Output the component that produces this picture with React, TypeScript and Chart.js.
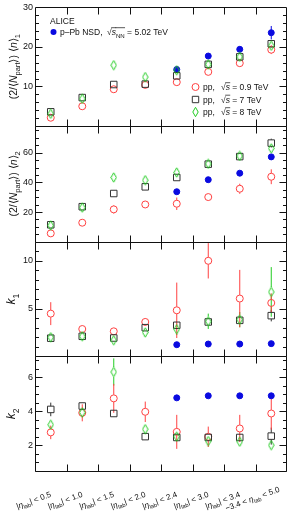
import React, { useEffect, useRef } from "react";
import { Chart, registerables } from "chart.js";

Chart.register(...registerables);

// ---------------- data ----------------
const categories = [
  "|η_lab| < 0.5",
  "|η_lab| < 1.0",
  "|η_lab| < 1.5",
  "|η_lab| < 2.0",
  "|η_lab| < 2.4",
  "|η_lab| < 3.0",
  "|η_lab| < 3.4",
  "−3.4 < η_lab < 5.0",
];

// panel 1 : (2/<Npart>) <n>_1
const n1PPb = [null, null, null, null, 14.3, 17.7, 19.4, 23.6];
const n1PPbErr = [0, 0, 0, 0, 0.5, 0.6, 0.7, 1.7];
const n1pp09 = [2.1, 5.0, 9.3, 10.4, 11.1, 13.7, 15.9, 19.3];
const n1pp09Err = [0.3, 0.4, 0.9, 0.5, 0.5, 0.5, 0.6, 1.1];
const n1pp7 = [3.6, 7.2, 10.5, 10.6, 12.7, 15.6, 17.5, 20.8];
const n1pp7Err = [0.3, 0.3, 0.4, 0.4, 0.5, 0.5, 0.6, 0.9];
const n1pp8 = [3.1, 6.9, 15.4, 12.4, 14.1, 15.6, 17.5, 20.3];
const n1pp8Err = [0.6, 0.6, 0.5, 0.5, 0.6, 0.6, 0.6, 0.7];

// panel 2 : (2/<Npart>) <n>_2
const n2PPb = [null, null, null, null, 33.7, 41.8, 46.2, 57.2];
const n2PPbErr = [0, 0, 0, 0, 0.8, 1.0, 1.0, 1.2];
const n2pp09 = [5.6, 12.8, 21.8, 25.1, 25.6, 30.1, 35.7, 43.8];
const n2pp09Err = [0.8, 1.0, 2.8, 1.5, 4.2, 1.5, 3.4, 5.0];
const n2pp7 = [11.4, 23.6, 32.5, 37.0, 43.3, 52.3, 57.4, 66.5];
const n2pp7Err = [0.8, 1.0, 1.0, 1.0, 1.2, 1.2, 1.5, 3.0];
const n2pp8 = [11.0, 23.0, 43.3, 41.5, 46.7, 52.5, 57.8, 62.9];
const n2pp8Err = [1.5, 1.5, 1.5, 1.5, 2.0, 1.5, 1.5, 1.5];

// panel 3 : k_1
const k1PPb = [null, null, null, null, 1.22, 1.29, 1.29, 1.33];
const k1PPbErr = [0, 0, 0, 0, 0.1, 0.1, 0.1, 0.1];
const k1pp09 = [4.47, 2.86, 2.62, 3.6, 4.82, 10.0, 6.05, 5.59];
const k1pp09Err = [1.2, 0.3, 0.3, 0.4, 2.9, 1.85, 3.0, 1.0];
const k1pp7 = [1.9, 2.1, 1.92, 3.0, 3.25, 3.6, 3.77, 4.26];
const k1pp7Err = [0.2, 0.2, 0.2, 0.3, 0.3, 0.3, 0.4, 0.6];
const k1pp8 = [2.0, 2.1, 1.68, 2.5, 2.83, 3.67, 3.84, 6.74];
const k1pp8Err = [0.3, 0.2, 0.3, 0.3, 0.6, 0.8, 0.8, 2.6];

// panel 4 : k_2
const k2PPb = [null, null, null, null, 4.78, 4.9, 4.9, 4.9];
const k2PPbErr = [0, 0, 0, 0, 0.1, 0.1, 0.1, 0.1];
const k2pp09 = [2.75, 3.9, 4.75, 3.96, 2.78, 2.49, 2.98, 3.86];
const k2pp09Err = [0.4, 0.5, 0.85, 0.6, 1.0, 0.6, 0.8, 0.95];
const k2pp7 = [4.1, 4.3, 3.86, 2.5, 2.45, 2.45, 2.45, 2.53];
const k2pp7Err = [0.4, 0.2, 0.1, 0.1, 0.1, 0.1, 0.1, 0.5];
const k2pp8 = [3.2, 3.92, 6.3, 2.94, 2.5, 2.24, 2.2, 2.0];
const k2pp8Err = [0.2, 0.3, 0.8, 0.1, 0.2, 0.2, 0.2, 0.1];

// tick labels
const n1TickLabels = [10, 20, 30];
const n2TickLabels = [20, 40, 60];
const k1TickLabels = [5, 10];
const k2TickLabels = [2, 4, 6];

// legend texts
const ppbLegend = "p–Pb NSD,";
const ppbEnergy = "5.02";
const ppEnergies = ["0.9", "7", "8"];

// ---------------- styles ----------------
const FONT = "'Liberation Sans', Arial, Helvetica, sans-serif";
const RED = "#ff4040";
const GREEN = "#22cc22";
const BLUE = "#0a0ae0";
const BLACK = "#333333";
const TXT = "#111111";

type Seg = { t: string; it?: boolean; sub?: boolean; over?: boolean };

function segFont(s: Seg, size: number) {
  return `${s.it ? "italic " : ""}${s.sub ? (size * 0.72).toFixed(2) : size}px ${FONT}`;
}
function measure(ctx: CanvasRenderingContext2D, segs: Seg[], size: number) {
  let w = 0;
  for (const s of segs) {
    ctx.font = segFont(s, size);
    w += ctx.measureText(s.t).width;
  }
  return w;
}
function drawSegs(ctx: CanvasRenderingContext2D, segs: Seg[], x: number, y: number, size: number) {
  let cx = x;
  for (const s of segs) {
    ctx.font = segFont(s, size);
    const w = ctx.measureText(s.t).width;
    ctx.fillText(s.t, cx, y + (s.sub ? size * 0.3 : 0));
    if (s.over) {
      ctx.save();
      ctx.lineWidth = 0.7;
      ctx.strokeStyle = ctx.fillStyle as string;
      ctx.beginPath();
      const oy = y - size * 0.86;
      ctx.moveTo(cx - 0.5, oy);
      ctx.lineTo(cx + w + 0.3, oy);
      ctx.stroke();
      ctx.restore();
    }
    cx += w;
  }
  return cx;
}
function labelSegs(l: string): Seg[] {
  const parts = l.split("η_lab");
  const out: Seg[] = [];
  parts.forEach((p, i) => {
    if (i > 0) {
      out.push({ t: "η", it: true });
      out.push({ t: "lab", sub: true });
    }
    if (p) out.push({ t: p });
  });
  return out;
}
const titleN = (k: string): Seg[] => [
  { t: "(2/⟨" },
  { t: "N", it: true },
  { t: "part", sub: true },
  { t: "⟩) ⟨" },
  { t: "n", it: true },
  { t: "⟩" },
  { t: k, sub: true },
];
const titleK = (k: string): Seg[] => [{ t: "k", it: true }, { t: k, sub: true }];

const panels = [
  { id: "y1", min: 0, max: 30, minor: 2, weight: 119, ticks: n1TickLabels, title: titleN("1"), tsize: 10.5, tx: 17 },
  { id: "y2", min: 0, max: 78, minor: 5, weight: 116, ticks: n2TickLabels, title: titleN("2"), tsize: 10.5, tx: 17 },
  { id: "y3", min: 0, max: 12, minor: 1, weight: 115, ticks: k1TickLabels, title: titleK("1"), tsize: 12, tx: 15 },
  { id: "y4", min: 0.45, max: 7.22, minor: 0.5, weight: 115.5, ticks: k2TickLabels, title: titleK("2"), tsize: 12, tx: 15 },
];

function makeDiamond(color: string) {
  const c = document.createElement("canvas");
  c.width = 7;
  c.height = 11;
  const g = c.getContext("2d")!;
  g.strokeStyle = color;
  g.lineWidth = 1;
  g.beginPath();
  g.moveTo(3.5, 0.8);
  g.lineTo(6.2, 5.5);
  g.lineTo(3.5, 10.2);
  g.lineTo(0.8, 5.5);
  g.closePath();
  g.stroke();
  return c;
}

function drawMarker(ctx: CanvasRenderingContext2D, kind: string, x: number, y: number) {
  ctx.save();
  ctx.lineWidth = 1;
  ctx.beginPath();
  if (kind === "red") {
    ctx.strokeStyle = RED;
    ctx.arc(x, y, 3.5, 0, Math.PI * 2);
    ctx.stroke();
  } else if (kind === "black") {
    ctx.strokeStyle = BLACK;
    ctx.rect(x - 3.2, y - 3.2, 6.4, 6.4);
    ctx.stroke();
  } else if (kind === "green") {
    ctx.strokeStyle = GREEN;
    ctx.moveTo(x, y - 4.7);
    ctx.lineTo(x + 2.7, y);
    ctx.lineTo(x, y + 4.7);
    ctx.lineTo(x - 2.7, y);
    ctx.closePath();
    ctx.stroke();
  } else {
    ctx.fillStyle = BLUE;
    ctx.arc(x, y, 3, 0, Math.PI * 2);
    ctx.fill();
  }
  ctx.restore();
}

const errorBarPlugin = {
  id: "errbars",
  beforeDatasetsDraw(chart: any) {
    const ctx: CanvasRenderingContext2D = chart.ctx;
    const xs = chart.scales.x;
    const area = chart.chartArea;
    chart.data.datasets.forEach((d: any) => {
      const ys = chart.scales[d.yAxisID];
      ctx.save();
      ctx.beginPath();
      ctx.rect(area.left, ys.top, area.right - area.left, ys.bottom - ys.top);
      ctx.clip();
      ctx.strokeStyle = d.barColor;
      ctx.lineWidth = 1;
      d.data.forEach((v: number | null, i: number) => {
        if (v == null) return;
        const e = d.errors[i];
        if (!e) return;
        const x = xs.getPixelForValue(i);
        const y = ys.getPixelForValue(v);
        const yt = ys.getPixelForValue(v + e);
        const yb = ys.getPixelForValue(v - e);
        const gap = d.gap;
        ctx.beginPath();
        if (y - gap > yt) {
          ctx.moveTo(x, yt);
          ctx.lineTo(x, y - gap);
        }
        if (y + gap < yb) {
          ctx.moveTo(x, y + gap);
          ctx.lineTo(x, yb);
        }
        ctx.stroke();
      });
      ctx.restore();
    });
  },
};

const framePlugin = {
  id: "frame",
  afterDraw(chart: any) {
    const ctx: CanvasRenderingContext2D = chart.ctx;
    const area = chart.chartArea;
    const xs = chart.scales.x;
    const L = Math.round(area.left) + 0.5;
    const R = Math.round(area.right) - 0.5;
    ctx.save();
    ctx.strokeStyle = TXT;
    ctx.lineWidth = 1;
    panels.forEach((p) => {
      const ys = chart.scales[p.id];
      const T = Math.round(ys.top) + 0.5;
      const B = Math.round(ys.bottom) + 0.5;
      ctx.beginPath();
      ctx.rect(L, T, R - L, B - T);
      // y ticks
      const majorStep = p.ticks[1] - p.ticks[0];
      const start = Math.ceil(p.min / p.minor - 1e-9) * p.minor;
      for (let v = start; v <= p.max + 1e-9; v += p.minor) {
        const vv = Math.round(v * 1000) / 1000;
        if (Math.abs(vv - p.min) < 1e-6 || Math.abs(vv - p.max) < 1e-6) continue;
        const isMajor = Math.abs(vv / majorStep - Math.round(vv / majorStep)) < 1e-6;
        const len = isMajor ? 7 : 3.5;
        const y = Math.round(ys.getPixelForValue(vv)) + 0.5;
        ctx.moveTo(L, y);
        ctx.lineTo(L + len, y);
        ctx.moveTo(R, y);
        ctx.lineTo(R - len, y);
      }
      // x ticks at category boundaries
      for (let i = 1; i < categories.length; i++) {
        const x = Math.round((xs.getPixelForValue(i - 1) + xs.getPixelForValue(i)) / 2) + 0.5;
        ctx.moveTo(x, T);
        ctx.lineTo(x, T + 7);
        ctx.moveTo(x, B);
        ctx.lineTo(x, B - 7);
      }
      ctx.stroke();

      // y title
      ctx.fillStyle = TXT;
      ctx.textBaseline = "alphabetic";
      ctx.textAlign = "left";
      const w = measure(ctx, p.title, p.tsize);
      ctx.save();
      ctx.translate(p.tx, (ys.top + ys.bottom) / 2);
      ctx.rotate(-Math.PI / 2);
      drawSegs(ctx, p.title, -w / 2, 0, p.tsize);
      ctx.restore();
    });
    ctx.restore();

    // x labels
    ctx.save();
    ctx.fillStyle = TXT;
    ctx.textAlign = "left";
    ctx.textBaseline = "alphabetic";
    categories.forEach((lab, i) => {
      const segs = labelSegs(lab);
      const w = measure(ctx, segs, 8);
      const last = i === categories.length - 1;
      ctx.save();
      ctx.translate(xs.getPixelForValue(i) + (last ? 9 : 1), area.bottom + (last ? 20 : 25));
      ctx.rotate((-20 * Math.PI) / 180);
      drawSegs(ctx, segs, -w, 0, 8);
      ctx.restore();
    });
    ctx.restore();

    // legend
    ctx.save();
    ctx.fillStyle = TXT;
    ctx.textAlign = "left";
    ctx.textBaseline = "alphabetic";
    ctx.font = `8.5px ${FONT}`;
    ctx.fillText("ALICE", 50, 23.5);
    drawMarker(ctx, "blue", 53.5, 32);
    ctx.font = `8.5px ${FONT}`;
    ctx.fillText(ppbLegend, 60, 35);
    drawSegs(
      ctx,
      [
        { t: "√" },
        { t: "s", it: true, over: true },
        { t: "NN", sub: true, over: true },
        { t: " = " + ppbEnergy + " TeV" },
      ],
      107,
      35,
      8.5
    );
    const kinds = ["red", "black", "green"];
    ppEnergies.forEach((e, i) => {
      const y = 87 + i * 12.5;
      drawMarker(ctx, kinds[i], 195.5, y);
      ctx.fillStyle = TXT;
      ctx.font = `8.5px ${FONT}`;
      ctx.fillText("pp,", 203, y + 3);
      drawSegs(ctx, [{ t: "√" }, { t: "s", it: true, over: true }, { t: " = " + e + " TeV" }], 221, y + 3, 8.5);
    });
    ctx.restore();
  },
};

export default function App() {
  const ref = useRef<HTMLCanvasElement>(null);
  useEffect(() => {
    const diamond = makeDiamond(GREEN);
    const series = [
      { n: [n1pp8, n1pp7, n1pp09, n1PPb], e: [n1pp8Err, n1pp7Err, n1pp09Err, n1PPbErr], id: "y1" },
      { n: [n2pp8, n2pp7, n2pp09, n2PPb], e: [n2pp8Err, n2pp7Err, n2pp09Err, n2PPbErr], id: "y2" },
      { n: [k1pp8, k1pp7, k1pp09, k1PPb], e: [k1pp8Err, k1pp7Err, k1pp09Err, k1PPbErr], id: "y3" },
      { n: [k2pp8, k2pp7, k2pp09, k2PPb], e: [k2pp8Err, k2pp7Err, k2pp09Err, k2PPbErr], id: "y4" },
    ];
    const styles: any[] = [
      { label: "pp 8 TeV", pointStyle: diamond, pointRadius: 5, pointBorderColor: GREEN, pointBackgroundColor: "rgba(0,0,0,0)", barColor: GREEN, gap: 4.8 },
      { label: "pp 7 TeV", pointStyle: "rect", pointRadius: 4.6, pointBorderColor: BLACK, pointBackgroundColor: "rgba(0,0,0,0)", barColor: BLACK, gap: 3.3 },
      { label: "pp 0.9 TeV", pointStyle: "circle", pointRadius: 3.5, pointBorderColor: RED, pointBackgroundColor: "rgba(0,0,0,0)", barColor: RED, gap: 3.6 },
      { label: "p-Pb", pointStyle: "circle", pointRadius: 3, pointBorderColor: BLUE, pointBackgroundColor: BLUE, barColor: BLUE, gap: 2.5 },
    ];
    const datasets: any[] = [];
    series.forEach((s) => {
      s.n.forEach((arr, k) => {
        datasets.push({
          ...styles[k],
          data: arr,
          errors: s.e[k],
          yAxisID: s.id,
          showLine: false,
          pointBorderWidth: 1,
          pointHoverRadius: styles[k].pointRadius,
        });
      });
    });

    const scales: any = {
      x: { type: "category", labels: categories, offset: true, display: false },
    };
    panels.forEach((p, idx) => {
      scales[p.id] = {
        type: "linear",
        position: "left",
        stack: "panels",
        stackWeight: p.weight,
        weight: 10 - idx,
        min: p.min,
        max: p.max,
        grid: { display: false, drawTicks: false },
        border: { display: false },
        ticks: {
          stepSize: p.ticks[1] - p.ticks[0],
          includeBounds: false,
          autoSkip: false,
          maxRotation: 0,
          padding: 2,
          color: TXT,
          font: { family: FONT, size: 9 },
          callback: (v: any) => (p.ticks.includes(Number(v)) ? String(v) : ""),
        },
        afterFit: (s: any) => {
          s.width = 35;
        },
      };
    });

    const chart = new Chart(ref.current!, {
      type: "line",
      data: { labels: categories, datasets },
      options: {
        responsive: false,
        animation: false,
        events: [],
        layout: { padding: { top: 6, right: 8, bottom: 40.5, left: 0 } },
        plugins: { legend: { display: false }, tooltip: { enabled: false } },
        scales,
      },
      plugins: [errorBarPlugin, framePlugin],
    } as any);
    return () => chart.destroy();
  }, []);
  return (
    <div style={{ position: "fixed", left: 0, top: 0, width: 295, height: 512, background: "#fff" }}>
      <canvas ref={ref} width={295} height={512} style={{ display: "block", width: 295, height: 512 }} />
    </div>
  );
}
